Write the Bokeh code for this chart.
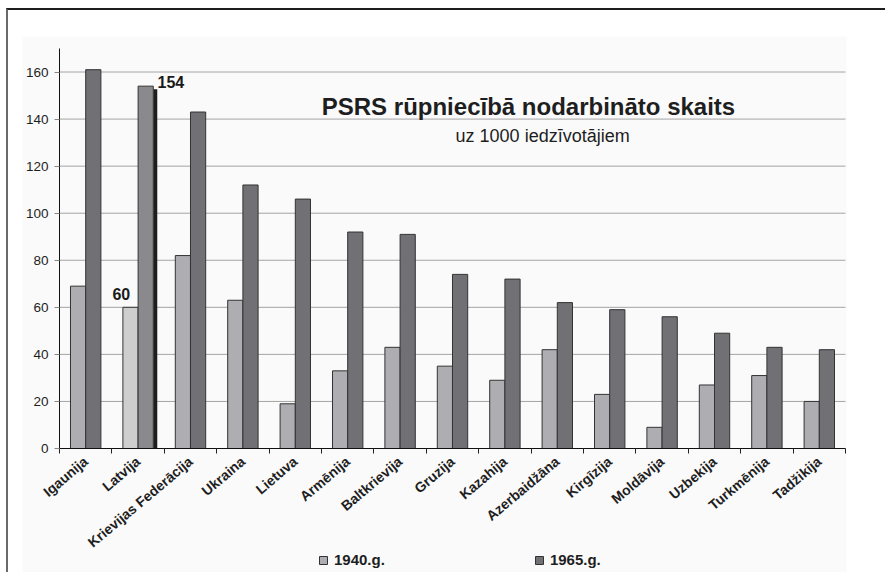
from bokeh.plotting import figure
from bokeh.models import (ColumnDataSource, Range1d, FixedTicker, Legend,
                          LegendItem, Label)
from bokeh.transform import dodge
from bokeh.core.properties import value
from bokeh.embed import file_html
from bokeh.resources import INLINE

# ---------------- data ----------------
countries = ["Igaunija", "Latvija", "Krievijas Federācija", "Ukraina", "Lietuva",
             "Armēnija", "Baltkrievija", "Gruzija", "Kazahija", "Azerbaidžāna",
             "Kirgīzija", "Moldāvija", "Uzbekija", "Turkmēnija", "Tadžikija"]
v1940 = [69, 60, 82, 63, 19, 33, 43, 35, 29, 42, 23, 9, 27, 31, 20]
v1965 = [161, 154, 143, 112, 106, 92, 91, 74, 72, 62, 59, 56, 49, 43, 42]
series_labels = ["1940.g.", "1965.g."]
highlight = "Latvija"
y_ticks = [0, 20, 40, 60, 80, 100, 120, 140, 160]
y_max = 170
title_text = "PSRS rūpniecībā nodarbināto skaits"
subtitle_text = "uz 1000 iedzīvotājiem"

# ---------------- styles ----------------
FONT = "Liberation Sans"
C1940, C1965 = "#aeaeb2", "#707075"
HL1940, HL1965 = "#cecece", "#8a8a8d"
BAR_W = 0.29

n = len(countries)
hi = countries.index(highlight)
xs = [i + 0.5 for i in range(n)]
src = ColumnDataSource(dict(
    x=xs, name=countries, a=v1940, b=v1965,
    ca=[HL1940 if c == highlight else C1940 for c in countries],
    cb=[HL1965 if c == highlight else C1965 for c in countries],
))

# the frame covers the whole light-grey chart area; axes sit at x=0 / y=0
p = figure(width=879, height=564, output_backend="svg", toolbar_location=None,
           x_range=Range1d(-0.706, n + 0.019), y_range=Range1d(-53.55, 175.1),
           min_border_left=14, min_border_right=41, min_border_top=26,
           min_border_bottom=0)
p.styles = {"border-top": "2px solid #1e1e1e", "border-left": "2px solid #6a6a6a",
            "margin-left": "6px", "margin-top": "8px"}
p.background_fill_color = "#fafafa"
p.border_fill_color = "#ffffff"
p.outline_line_color = None
p.xgrid.grid_line_color = None
p.ygrid.grid_line_color = None

# horizontal grid lines from the y ticks (not at 0, the axis is there)
grid_src = ColumnDataSource(dict(y=[t for t in y_ticks if t > 0]))
p.segment(x0=0, x1=n, y0="y", y1="y", source=grid_src,
          line_color="#a4a4a4", line_width=1)

r1 = p.vbar(x=dodge("x", -BAR_W / 2), top="a", width=BAR_W, source=src,
            fill_color="ca", line_color="#333333", line_width=1)

# shadow of the highlighted 1965 bar
sh_src = ColumnDataSource(dict(x=[xs[hi]], top=[v1965[hi] - 1.3]))
p.vbar(x=dodge("x", BAR_W + 0.038), top="top", width=0.076, source=sh_src,
       fill_color="#1e1e1e", line_color=None)

r2 = p.vbar(x=dodge("x", BAR_W / 2), top="b", width=BAR_W, source=src,
            fill_color="cb", line_color="#333333", line_width=1)

# value labels for the highlighted country
lab_src = ColumnDataSource(dict(x=[xs[hi]], a=[v1940[hi]], b=[v1965[hi]],
                                ta=[str(v1940[hi])], tb=[str(v1965[hi])]))
p.text(x=dodge("x", -0.32), y=dodge("a", 5.8), text="ta", source=lab_src,
       text_font=value(FONT), text_font_style="bold", text_font_size="16px",
       text_align="center", text_baseline="alphabetic", text_color="#1a1a1a")
p.text(x=dodge("x", 0.37), y=dodge("b", 1.9), text="tb", source=lab_src,
       text_font=value(FONT), text_font_style="bold", text_font_size="16px",
       text_align="left", text_baseline="alphabetic", text_color="#1a1a1a")

# titles inside the plot
p.add_layout(Label(x=8.95, y=145.3, text=title_text, text_font=FONT,
                   text_font_style="bold", text_font_size="24px",
                   text_align="center", text_baseline="alphabetic",
                   text_color="#1e1e1e"))
p.add_layout(Label(x=9.22, y=132.8, text=subtitle_text, text_font=FONT,
                   text_font_size="18px", text_align="center",
                   text_baseline="alphabetic", text_color="#1e1e1e"))

# axes
p.xaxis.fixed_location = 0
p.xaxis.bounds = (0, n)
p.xaxis.ticker = FixedTicker(ticks=xs, minor_ticks=list(range(n + 1)))
p.xaxis.major_label_overrides = {x: c for x, c in zip(xs, countries)}
p.xaxis.major_label_orientation = 0.70
p.xaxis.major_tick_out = 0
p.xaxis.major_tick_in = 0
p.xaxis.minor_tick_out = 5
p.xaxis.minor_tick_in = 0
p.xaxis.minor_tick_line_color = "#222222"
p.xaxis.axis_line_color = "#111111"
p.xaxis.major_label_text_font = FONT
p.xaxis.major_label_text_font_style = "bold"
p.xaxis.major_label_text_font_size = "14px"
p.xaxis.major_label_text_color = "#1e1e1e"
p.xaxis.major_label_standoff = 6

p.yaxis.fixed_location = 0
p.yaxis.bounds = (0, y_max)
p.yaxis.ticker = FixedTicker(ticks=y_ticks)
p.yaxis.major_tick_out = 5
p.yaxis.major_tick_in = 0
p.yaxis.minor_tick_out = 0
p.yaxis.minor_tick_in = 0
p.yaxis.major_tick_line_color = "#888888"
p.yaxis.axis_line_color = "#111111"
p.yaxis.major_label_text_font = FONT
p.yaxis.major_label_text_font_size = "13.5px"
p.yaxis.major_label_text_color = "#1e1e1e"
p.yaxis.major_label_standoff = 6

legend = Legend(items=[LegendItem(label=series_labels[0], renderers=[r1], index=0),
                       LegendItem(label=series_labels[1], renderers=[r2], index=0)],
                location=(296, 6), orientation="horizontal",
                spacing=149, padding=0, margin=0,
                glyph_width=10, glyph_height=10, label_height=14,
                label_standoff=6, background_fill_alpha=0,
                border_line_color=None,
                label_text_font=FONT, label_text_font_style="bold",
                label_text_font_size="15px", label_text_color="#1e1e1e")
p.add_layout(legend, "center")

open("out.html", "w").write(file_html(p, INLINE))
